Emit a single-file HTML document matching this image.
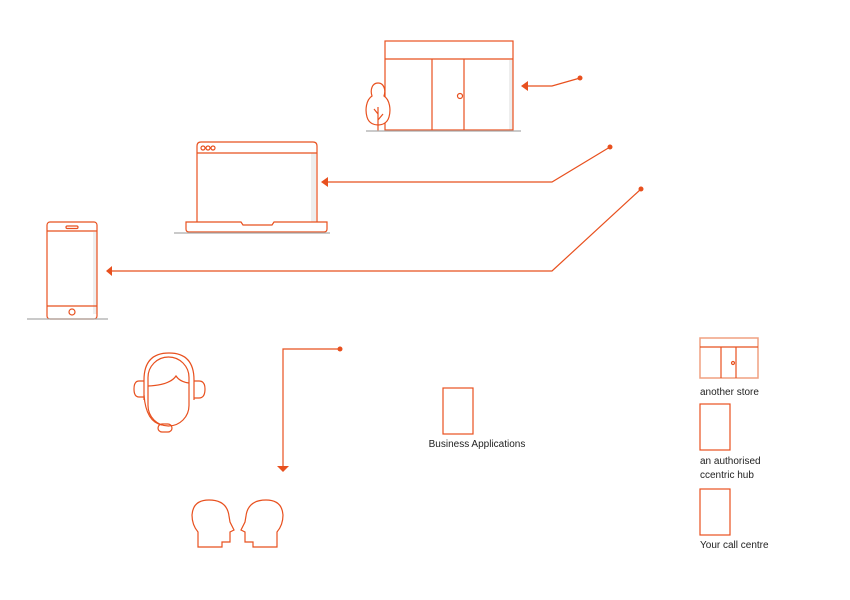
<!DOCTYPE html>
<html><head><meta charset="utf-8"><style>
html,body{margin:0;padding:0;background:#fff;}
svg{display:block;}
text{font-family:"Liberation Sans",sans-serif;font-size:10px;fill:#222;}
</style></head><body>
<svg width="850" height="600" viewBox="0 0 850 600" xmlns="http://www.w3.org/2000/svg">
<g fill="none" stroke="#e8501e" stroke-width="1.2">
<!-- store -->
<rect x="509" y="60" width="4" height="70" fill="#eee" stroke="none"/>
<rect x="385" y="41" width="128" height="89"/>
<line x1="385" y1="59" x2="513" y2="59"/>
<line x1="432" y1="59" x2="432" y2="130"/>
<line x1="464" y1="59" x2="464" y2="130"/>
<circle cx="460" cy="96" r="2.5"/>
<path d="M378 83 C372 83 370 90 372 96 C366 100 365 110 367 117 C369 124 375 125 378 125 C381 125 387 124 389 117 C391 110 390 100 384 96 C386 90 384 83 378 83 Z" fill="#fff"/>
<path d="M378 131 L378 107 M378 114 L374 109 M378 120 L383 114"/>
<line x1="366" y1="131" x2="521" y2="131" stroke="#aaa"/>
<!-- arrow 1 -->
<polyline points="580,78 552,86 528,86"/>
<polygon points="521,86 528,81 528,91" fill="#e8501e" stroke="none"/>
<circle cx="580" cy="78" r="2.5" fill="#e8501e" stroke="none"/>
<!-- laptop -->
<rect x="311" y="153" width="5" height="69" fill="#eee" stroke="none"/>
<path d="M197 222 L197 146 Q197 142 201 142 L313 142 Q317 142 317 146 L317 222"/>
<line x1="197" y1="153" x2="317" y2="153"/>
<circle cx="203" cy="148" r="2"/><circle cx="208" cy="148" r="2"/><circle cx="213" cy="148" r="2"/>
<path d="M186 222 L241 222 L243 225 L272 225 L274 222 L327 222 L327 229 Q327 232 324 232 L189 232 Q186 232 186 229 Z"/>
<line x1="174" y1="233" x2="330" y2="233" stroke="#aaa"/>
<!-- arrow 2 -->
<polyline points="610,147 552,182 328,182"/>
<polygon points="321,182 328,177 328,187" fill="#e8501e" stroke="none"/>
<circle cx="610" cy="147" r="2.5" fill="#e8501e" stroke="none"/>
<!-- phone -->
<rect x="93" y="232" width="4" height="82" fill="#eee" stroke="none"/>
<rect x="47" y="222" width="50" height="97" rx="3"/>
<line x1="47" y1="231" x2="97" y2="231"/>
<line x1="47" y1="306" x2="97" y2="306"/>
<rect x="66" y="226" width="12" height="2.5" rx="1.2"/>
<circle cx="72" cy="312" r="3"/>
<line x1="27" y1="319" x2="108" y2="319" stroke="#aaa"/>
<!-- arrow 3 -->
<polyline points="641,189 552,271 112,271"/>
<polygon points="106,271 112,266 112,276" fill="#e8501e" stroke="none"/>
<circle cx="641" cy="189" r="2.5" fill="#e8501e" stroke="none"/>
<!-- arrow 4 -->
<polyline points="340,349 283,349 283,466"/>
<polygon points="277,466 289,466 283,472" fill="#e8501e" stroke="none"/>
<circle cx="340" cy="349" r="2.5" fill="#e8501e" stroke="none"/>
<!-- headset -->
<path d="M144 400 L144 380 Q144 353 169 353 Q194 353 194 380 L194 400"/>
<rect x="148" y="357" width="41" height="69" rx="20.5"/>
<path d="M148 386 Q170 385 176 376 Q180 382 189 383"/>
<path d="M144 381 L139 381 Q134 381 134 389 Q134 397 139 397 L144 397"/>
<path d="M194 381 L199 381 Q205 381 205 389 Q205 398 199 398 L194 398"/>
<path d="M144 395 Q146 422 162 425"/>
<rect x="158" y="424" width="14" height="8" rx="4"/>
<!-- heads -->
<path d="M198 547 L198 532 Q192 525 192 515 Q193 500 209 500 Q227 500 229 516 L230 522 L234 530 L230 532 L230 542 L222 542 L222 547 Z"/>
<path d="M277 547 L277 532 Q283 525 283 515 Q282 500 266 500 Q248 500 246 516 L245 522 L241 530 L245 532 L245 542 L253 542 L253 547 Z"/>
<!-- business apps -->
<rect x="443" y="388" width="30" height="46"/>
<!-- legend -->
<rect x="700" y="338" width="58" height="40" stroke="#f0a080" stroke-width="1.5"/>
<line x1="700" y1="347" x2="758" y2="347"/>
<line x1="721" y1="347" x2="721" y2="378"/>
<line x1="736" y1="347" x2="736" y2="378"/>
<circle cx="733" cy="363" r="1.5"/>
<rect x="700" y="404" width="30" height="46"/>
<rect x="700" y="489" width="30" height="46"/>
</g>
<text x="477" y="447" text-anchor="middle">Business Applications</text>
<text x="700" y="395">another store</text>
<text x="700" y="464">an authorised</text>
<text x="700" y="478">ccentric hub</text>
<text x="700" y="548">Your call centre</text>
</svg>
</body></html>
